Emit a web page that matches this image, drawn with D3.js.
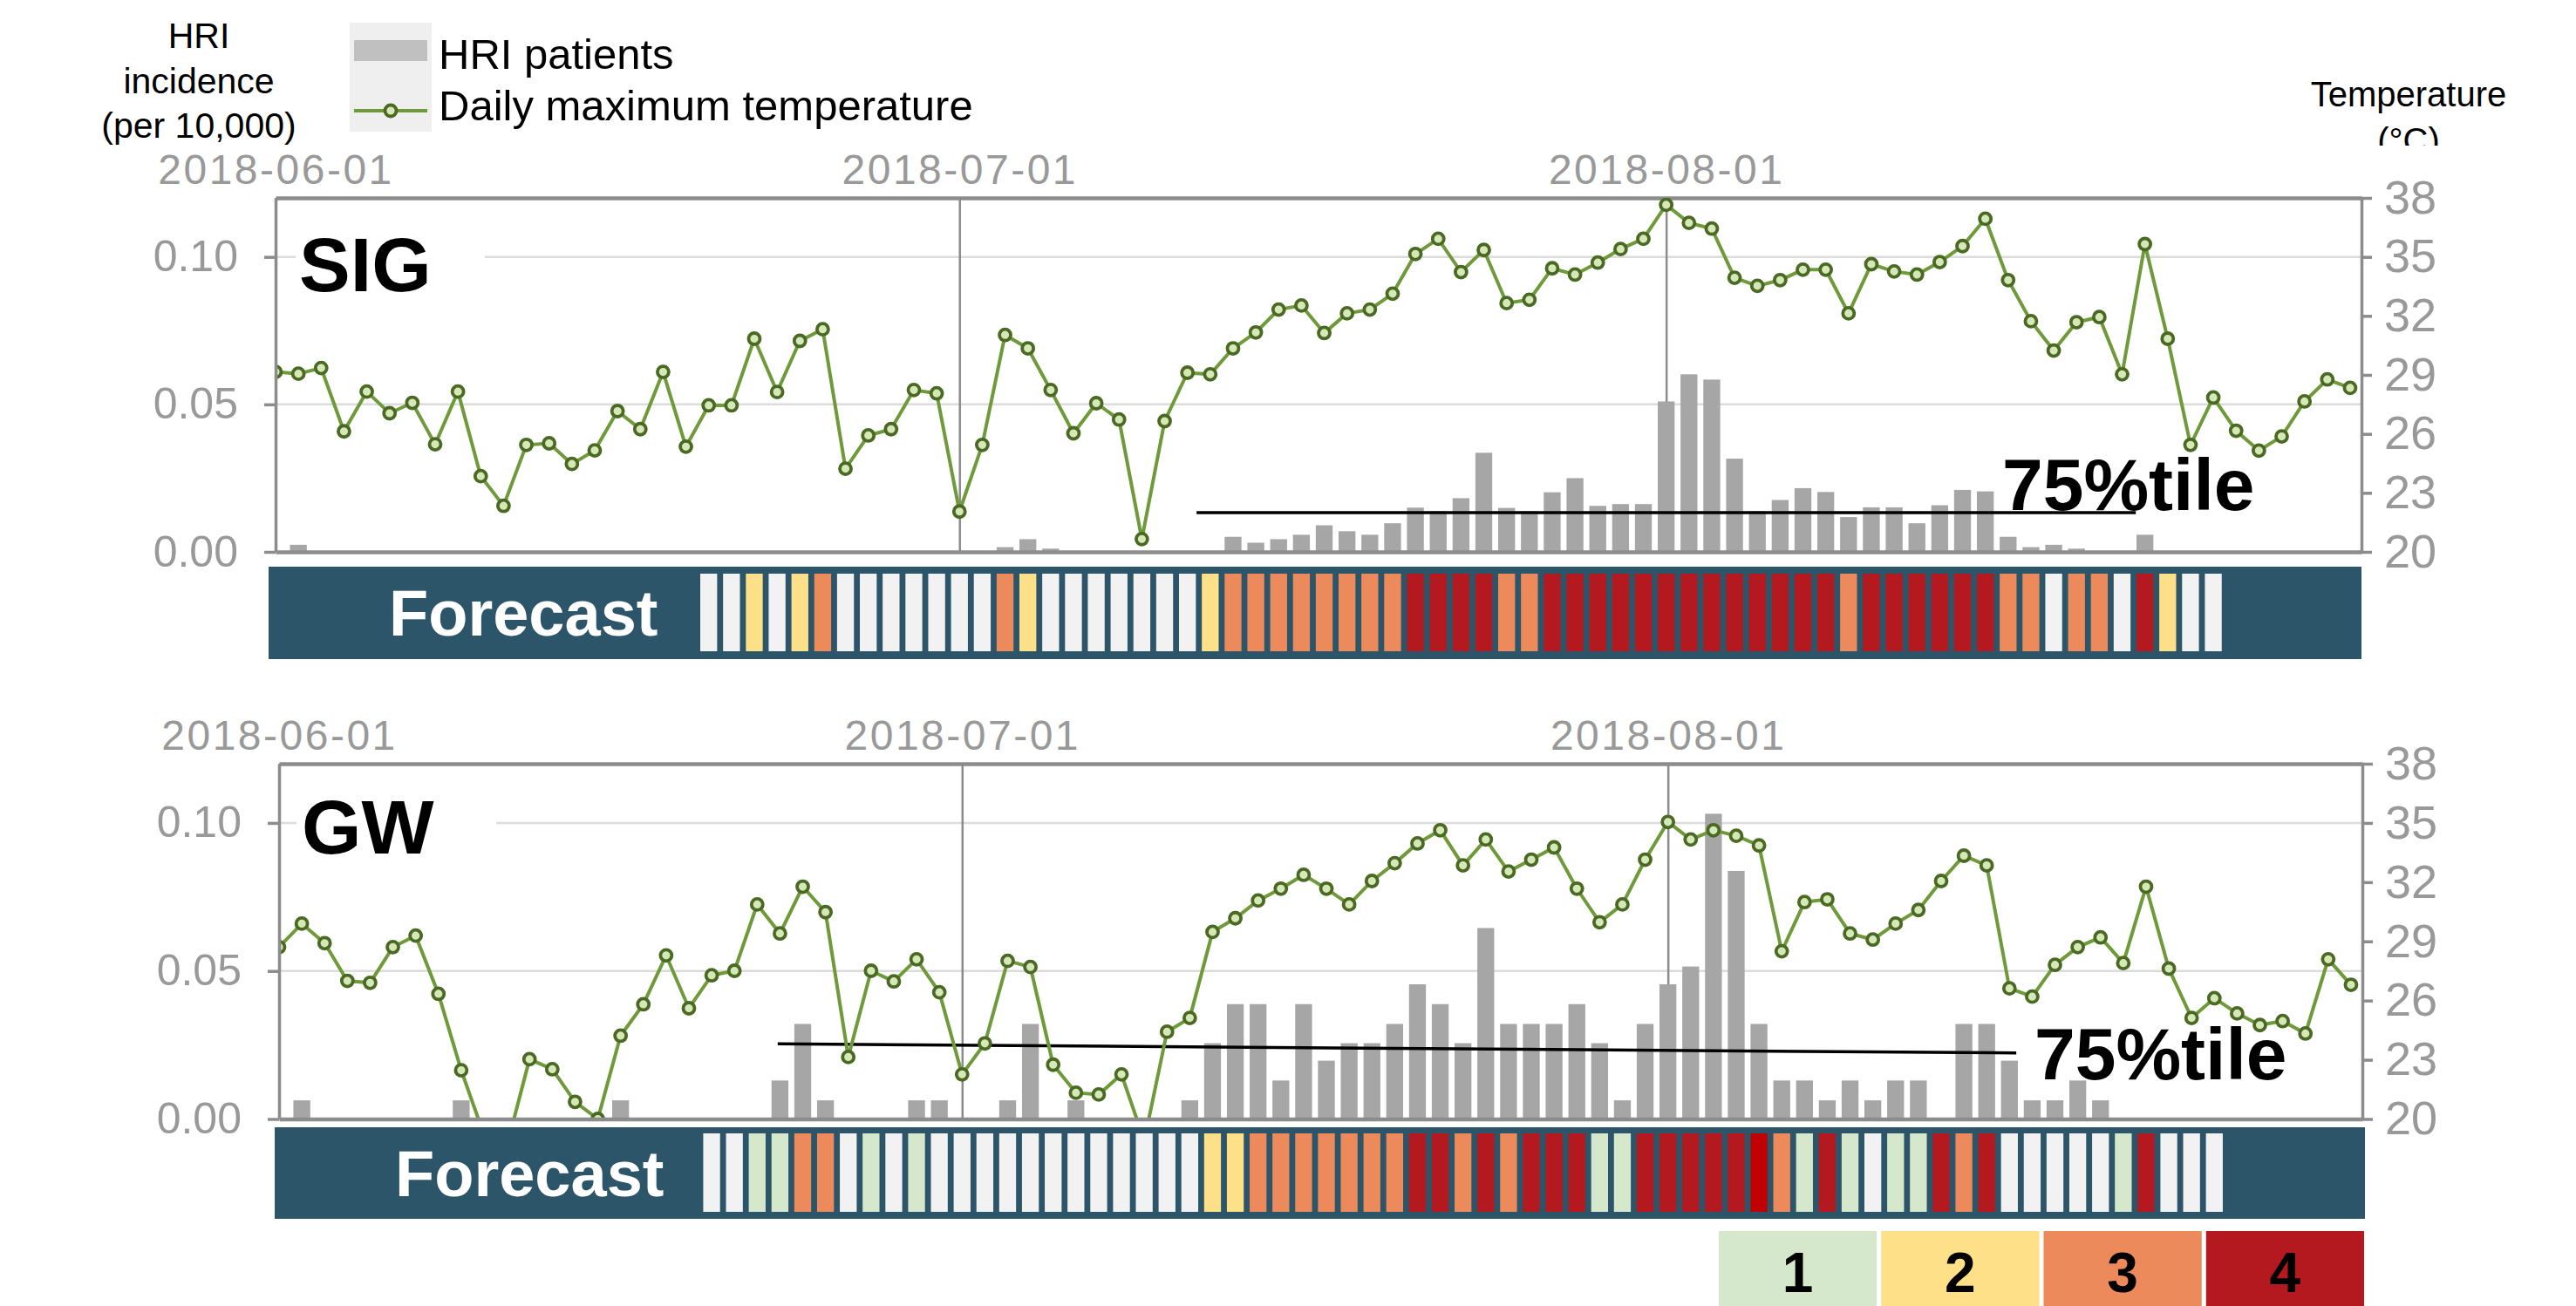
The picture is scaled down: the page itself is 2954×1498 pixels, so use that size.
<!DOCTYPE html>
<html><head><meta charset="utf-8">
<script src="https://cdn.jsdelivr.net/npm/d3@7"></script>
<style>
body{margin:0;background:#fff}
svg{display:block}
text{font-family:"Liberation Sans",Arial,sans-serif}
</style>
</head><body>
<svg id="c" width="2954" height="1498"></svg>
<script>
// ---------------- DATA ----------------
const startDate = "2018-06-01";
const dateTicks = ["2018-06-01", "2018-07-01", "2018-08-01"];
const leftTicks = [0, 0.05, 0.10];
const rightTicks = [20, 23, 26, 29, 32, 35, 38];
const levelLabels = ["1", "2", "3", "4"];

// Daily maximum temperature (°C), 2018-06-01 .. 2018-08-31
const sigTemp = [
  29.15,29.06,29.35,26.13,28.15,27.05,27.58,25.47,28.15,23.85,
  22.34,25.44,25.52,24.47,25.16,27.16,26.24,29.15,25.35,27.45,
  27.45,30.84,28.13,30.73,31.32,24.23,25.92,26.24,28.23,28.06,
  22.05,25.44,31.03,30.35,28.23,26.03,27.56,26.73,20.65,26.65,
  29.11,29.03,30.35,31.16,32.32,32.53,31.13,32.13,32.32,33.13,
  35.15,35.92,34.23,35.35,32.65,32.82,34.42,34.10,34.71,35.40,
  35.92,37.65,36.73,36.44,33.94,33.53,33.82,34.35,34.35,32.13,
  34.63,34.26,34.10,34.74,35.55,36.94,33.82,31.73,30.24,31.68,
  31.94,29.03,35.65,30.84,25.44,27.85,26.16,25.15,25.87,27.65,
  28.77,28.34
];
const gwTemp = [
  28.71,29.90,28.91,27.00,26.90,28.71,29.29,26.34,22.47,19.20,
  18.60,23.03,22.52,20.87,20.00,24.22,25.81,28.29,25.61,27.28,
  27.51,30.87,29.40,31.77,30.48,23.14,27.51,26.97,28.09,26.42,
  22.26,23.83,28.01,27.70,22.75,21.33,21.24,22.26,18.90,24.42,
  25.12,29.48,30.17,31.07,31.67,32.37,31.67,30.87,32.06,32.96,
  33.96,34.63,32.85,34.16,32.54,33.14,33.76,31.67,29.97,30.87,
  33.14,35.05,34.16,34.63,34.35,33.86,28.50,30.99,31.13,29.40,
  29.09,29.90,30.59,32.06,33.34,32.85,26.62,26.20,27.81,28.71,
  29.20,27.90,31.77,27.62,25.12,26.12,25.35,24.76,24.96,24.33,
  28.09,26.80
];

// HRI incidence (per 10,000)
const sigHRI = [
  0,0.0024,0,0,0,0,0,0,0,0,
  0,0,0,0,0,0,0,0,0,0,
  0,0,0,0,0,0,0,0,0,0,
  0,0,0.0016,0.0043,0.0011,0,0,0,0,0,
  0,0,0.0051,0.0031,0.0043,0.0058,0.0090,0.0070,0.0058,0.0097,
  0.0150,0.0138,0.0182,0.0336,0.0149,0.0138,0.0202,0.0250,0.0156,0.0162,
  0.0162,0.0510,0.0602,0.0584,0.0316,0.0138,0.0176,0.0216,0.0203,0.0118,
  0.0151,0.0151,0.0097,0.0158,0.0210,0.0205,0.0051,0.0016,0.0024,0.0011,
  0,0,0.0058,0,0,0,0,0,0,0,
  0,0
];
const gwHRI = [
  0,0.0063,0,0,0,0,0,0,0.0063,0,
  0,0,0,0,0,0.0063,0,0,0,0,
  0,0,0.0130,0.0321,0.0063,0,0,0,0.0063,0.0063,
  0,0,0.0063,0.0321,0,0.0063,0,0,0,0,
  0.0063,0.0256,0.0388,0.0388,0.0130,0.0388,0.0197,0.0256,0.0256,0.0321,
  0.0455,0.0388,0.0256,0.0645,0.0321,0.0321,0.0321,0.0388,0.0256,0.0063,
  0.0321,0.0455,0.0515,0.1031,0.0838,0.0321,0.0130,0.0130,0.0063,0.0130,
  0.0063,0.0130,0.0130,0,0.0321,0.0321,0.0197,0.0063,0.0063,0.0130,
  0.0063,0,0,0,0,0,0,0,0,0,
  0,0
];

// Forecast level per day, starting 2018-06-20 (0 = none, 1..4 levels, 5 = level 4 highlighted)
const forecastStartDay = 19;
const sigForecast = [
  0,0,2,0,2,3,0,0,0,0,0,0,0,3,2,0,0,0,0,0,0,0,2,
  3,3,3,3,3,3,3,3,4,4,4,4,3,3,4,4,4,4,4,4,4,4,4,4,4,4,4,
  3,4,4,4,4,4,4,3,3,0,3,3,0,4,2,0,0
];
const gwForecast = [
  0,0,1,1,3,3,0,1,0,1,0,0,0,0,0,0,0,0,0,0,0,0,2,
  2,3,3,3,3,3,3,3,4,4,3,4,3,4,4,4,1,1,4,4,4,4,4,
  5,3,1,4,1,0,1,1,4,3,4,0,0,0,0,0,1,4,0,0,0
];

// 75th percentile reference lines: [day index, incidence]
const sigThreshold = [[40.4, 0.0133], [81.6, 0.0133]];
const gwThreshold  = [[21.9, 0.0254], [76.3, 0.0223]];

// ---------------- STYLE ----------------
const levelColors = {0:"#f2f2f2", 1:"#d6e8cb", 2:"#fde087", 3:"#ec8a5c", 4:"#b4191f", 5:"#c00000"};
const axisColor = "#8c8c8c";
const tickTextColor = "#999999";
const gridColor = "#dcdcdc";
const barColor = "#a6a6a6";
const lineColor = "#6f9a3a";
const markerStroke = "#4a6a24";
const markerFill = "#d6e8b8";
const bandColor = "#2d5569";

const svg = d3.select("#c");
const parse = d3.utcParse("%Y-%m-%d");
const fmt = d3.utcFormat("%Y-%m-%d");
const t0 = parse(startDate);
const dayDate = i => new Date(t0.getTime() + i * 86400000);

function drawPanel(cfg) {
  const g = svg.append("g");
  const x = d3.scaleUtc().domain([dayDate(0), dayDate(91.5)]).range([cfg.x0, cfg.x1]);
  const yL = d3.scaleLinear().domain([0, 0.12]).range([cfg.yBot, cfg.yTop]);
  const yR = d3.scaleLinear().domain([20, 38]).range([cfg.yBot, cfg.yTop]);
  const dayW = x(dayDate(1)) - x(dayDate(0));
  const bw = dayW * 0.74;

  const clipId = "clip-" + cfg.label;
  svg.append("clipPath").attr("id", clipId).append("rect")
    .attr("x", cfg.x0).attr("y", cfg.yTop).attr("width", cfg.x1 - cfg.x0).attr("height", cfg.yBot - cfg.yTop);

  // gridlines
  g.selectAll(".grid").data(leftTicks.filter(d => d > 0)).join("line")
    .attr("x1", cfg.x0).attr("x2", cfg.x1)
    .attr("y1", d => yL(d)).attr("y2", d => yL(d))
    .attr("stroke", gridColor).attr("stroke-width", 2.5);

  // label background
  g.append("rect").attr("x", cfg.labelBg[0]).attr("y", cfg.labelBg[1])
    .attr("width", cfg.labelBg[2]).attr("height", cfg.labelBg[3]).attr("fill", "#fff");

  // top date axis with full-height month lines
  const topAxis = d3.axisTop(x).tickValues(dateTicks.map(parse)).tickFormat(fmt)
    .tickSizeInner(-(cfg.yBot - cfg.yTop)).tickSizeOuter(0).tickPadding(16);
  const ta = g.append("g").attr("transform", `translate(0,${cfg.yTop})`).call(topAxis);
  ta.select(".domain").attr("stroke", axisColor).attr("stroke-width", 4.5);
  ta.selectAll(".tick line").attr("stroke", axisColor).attr("stroke-width", 2.5);
  ta.selectAll(".tick text").attr("fill", tickTextColor).attr("font-size", 48)
    .attr("letter-spacing", 2.5).attr("font-family", '"Liberation Sans",Arial,sans-serif');

  // bars
  const hri = cfg.hri.map((v, i) => ({d: dayDate(i), v}));
  g.selectAll(".bar").data(hri.filter(o => o.v > 0)).join("rect")
    .attr("x", o => x(o.d) - bw / 2).attr("width", bw)
    .attr("y", o => yL(o.v)).attr("height", o => yL(0) - yL(o.v))
    .attr("fill", barColor);

  // 75%tile line
  g.append("line")
    .attr("x1", x(dayDate(cfg.threshold[0][0]))).attr("y1", yL(cfg.threshold[0][1]))
    .attr("x2", x(dayDate(cfg.threshold[1][0]))).attr("y2", yL(cfg.threshold[1][1]))
    .attr("stroke", "#000").attr("stroke-width", 3.5);

  g.append("text").attr("x", cfg.thrLabel[0]).attr("y", cfg.thrLabel[1])
    .attr("font-size", 84).attr("font-weight", "bold").attr("fill", "#000").text("75%tile");

  // temperature line
  const temps = cfg.temp.map((v, i) => ({d: dayDate(i), v}));
  const lg = g.append("g").attr("clip-path", `url(#${clipId})`);
  lg.append("path").datum(temps)
    .attr("d", d3.line().x(o => x(o.d)).y(o => yR(o.v)))
    .attr("fill", "none").attr("stroke", lineColor).attr("stroke-width", 4);
  lg.selectAll(".pt").data(temps).join("circle")
    .attr("cx", o => x(o.d)).attr("cy", o => yR(o.v)).attr("r", 6.5)
    .attr("fill", markerFill).attr("stroke", markerStroke).attr("stroke-width", 3.8);

  // panel label
  g.append("text").attr("x", cfg.labelPos[0]).attr("y", cfg.labelPos[1])
    .attr("font-size", 88).attr("font-weight", "bold").attr("fill", "#000").text(cfg.label);

  // left axis
  const la = g.append("g").attr("transform", `translate(${cfg.x0},0)`)
    .call(d3.axisLeft(yL).tickValues(leftTicks).tickFormat(d3.format(".2f")).tickSizeInner(13).tickSizeOuter(0).tickPadding(30));
  la.select(".domain").attr("stroke", axisColor).attr("stroke-width", 3.5);
  la.selectAll(".tick line").attr("stroke", axisColor).attr("stroke-width", 3.5);
  la.selectAll(".tick text").attr("fill", tickTextColor).attr("font-size", 50)
    .attr("font-family", '"Liberation Sans",Arial,sans-serif');

  // right axis
  const ra = g.append("g").attr("transform", `translate(${cfg.x1},0)`)
    .call(d3.axisRight(yR).tickValues(rightTicks).tickSizeInner(12).tickSizeOuter(0).tickPadding(14));
  ra.select(".domain").attr("stroke", axisColor).attr("stroke-width", 3.5);
  ra.selectAll(".tick line").attr("stroke", axisColor).attr("stroke-width", 3.5);
  ra.selectAll(".tick text").attr("fill", tickTextColor).attr("font-size", 54)
    .attr("font-family", '"Liberation Sans",Arial,sans-serif');

  // bottom axis line
  const ba = g.append("g").attr("transform", `translate(0,${cfg.yBot})`)
    .call(d3.axisBottom(x).tickValues([]).tickSizeOuter(0));
  ba.select(".domain").attr("stroke", axisColor).attr("stroke-width", 4.5);

  // forecast band
  const b = cfg.band;
  g.append("rect").attr("x", b.x0).attr("y", b.y0).attr("width", b.x1 - b.x0).attr("height", b.y1 - b.y0)
    .attr("fill", bandColor);
  g.append("text").attr("x", b.x0 + 138).attr("y", b.y0 + 79)
    .attr("font-size", 74).attr("font-weight", "bold").attr("fill", "#fff").text("Forecast");
  const cells = cfg.forecast.map((lv, k) => ({d: dayDate(forecastStartDay + k), lv}));
  g.selectAll(".cell").data(cells).join("rect")
    .attr("x", o => x(o.d) - bw / 2).attr("width", bw)
    .attr("y", b.cy0).attr("height", b.cy1 - b.cy0)
    .attr("fill", o => levelColors[o.lv]);
}

drawPanel({
  label: "SIG", x0: 316, x1: 2708, yTop: 227, yBot: 633,
  temp: sigTemp, hri: sigHRI, forecast: sigForecast, threshold: sigThreshold,
  labelPos: [343, 334], labelBg: [339, 258, 217, 86],
  thrLabel: [2296, 585],
  band: {x0: 308, x1: 2708, y0: 650, y1: 756, cy0: 658, cy1: 747}
});
drawPanel({
  label: "GW", x0: 320, x1: 2709, yTop: 876, yBot: 1283.5,
  temp: gwTemp, hri: gwHRI, forecast: gwForecast, threshold: gwThreshold,
  labelPos: [346, 979], labelBg: [340, 903, 229, 86],
  thrLabel: [2333, 1238],
  band: {x0: 315, x1: 2712, y0: 1293, y1: 1398, cy0: 1300, cy1: 1390}
});

// ---------------- top-left titles & legend ----------------
const yTitle = svg.append("text").attr("text-anchor", "middle").attr("font-size", 41).attr("fill", "#000");
[["HRI", 55], ["incidence", 107], ["(per 10,000)", 158]].forEach(([t, y]) =>
  yTitle.append("tspan").attr("x", 228).attr("y", y).text(t));

svg.append("rect").attr("x", 401).attr("y", 26).attr("width", 94).attr("height", 125).attr("fill", "#efefef");
svg.append("rect").attr("x", 406).attr("y", 46).attr("width", 84).attr("height", 24).attr("fill", "#c0c0c0");
svg.append("line").attr("x1", 406).attr("x2", 490).attr("y1", 127).attr("y2", 127)
  .attr("stroke", lineColor).attr("stroke-width", 4);
svg.append("circle").attr("cx", 448).attr("cy", 127).attr("r", 6.5)
  .attr("fill", markerFill).attr("stroke", markerStroke).attr("stroke-width", 3.8);
svg.append("text").attr("x", 503).attr("y", 79).attr("font-size", 49).attr("fill", "#000").text("HRI patients");
svg.append("text").attr("x", 503).attr("y", 138).attr("font-size", 49).attr("fill", "#000").text("Daily maximum temperature");

// right axis title (clipped like the original)
svg.append("clipPath").attr("id", "clip-rt").append("rect").attr("x", 2600).attr("y", 0).attr("width", 354).attr("height", 167);
const rt = svg.append("text").attr("text-anchor", "middle").attr("font-size", 40).attr("fill", "#000")
  .attr("clip-path", "url(#clip-rt)");
rt.append("tspan").attr("x", 2762).attr("y", 122).text("Temperature");
rt.append("tspan").attr("x", 2762).attr("y", 175).text("(°C)");

// ---------------- level legend ----------------
const lx = d3.scaleBand().domain(levelLabels).range([1971, 2711]).paddingInner(0.027);
const lgd = svg.append("g");
lgd.selectAll("rect").data(levelLabels).join("rect")
  .attr("x", d => lx(d)).attr("y", 1412).attr("width", lx.bandwidth()).attr("height", 90)
  .attr("fill", (d, i) => levelColors[i + 1]);
lgd.selectAll("text").data(levelLabels).join("text")
  .attr("x", d => lx(d) + lx.bandwidth() / 2).attr("y", 1482)
  .attr("text-anchor", "middle").attr("font-size", 64).attr("font-weight", "bold").attr("fill", "#000")
  .text(d => d);
</script>
</body></html>
